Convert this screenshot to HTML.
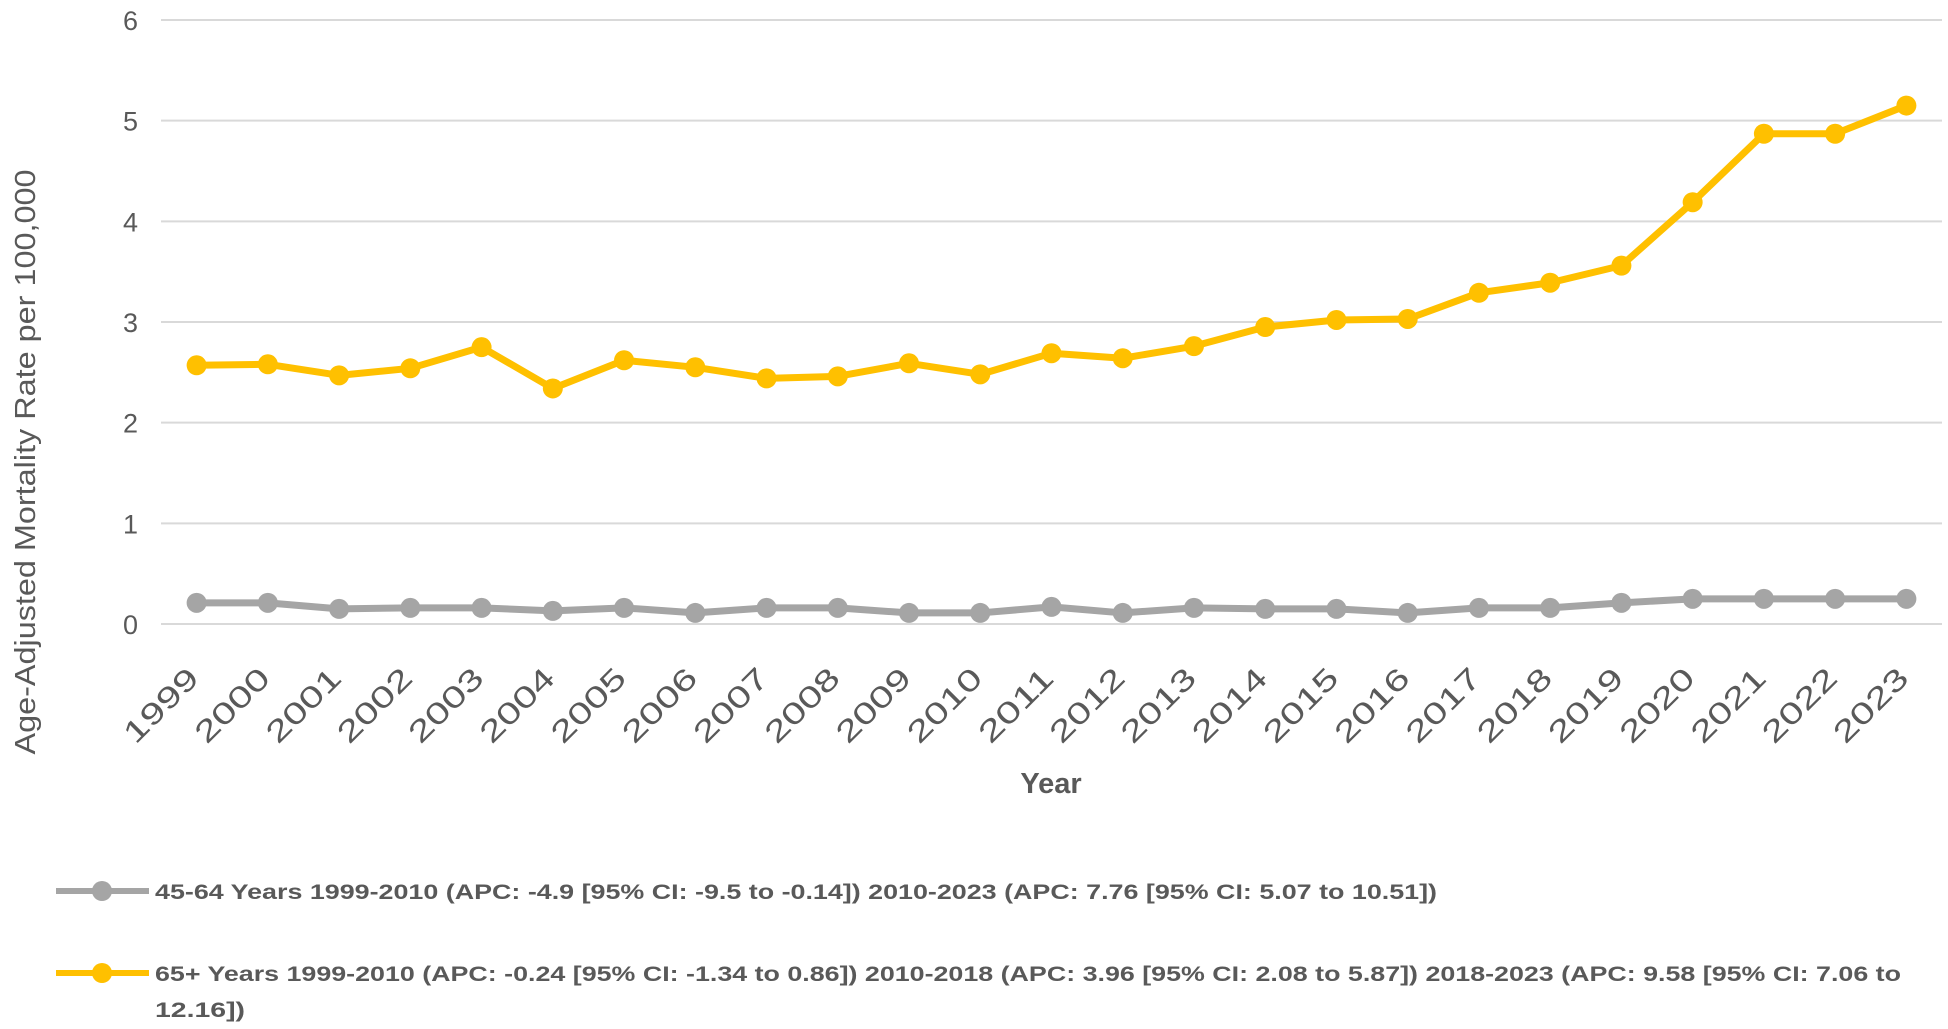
<!DOCTYPE html>
<html><head><meta charset="utf-8"><style>
html,body{margin:0;padding:0;background:#fff;}
svg{display:block;font-family:"Liberation Sans",sans-serif;}
</style></head><body>
<svg id="chart" width="1948" height="1029" viewBox="0 0 1948 1029" xmlns="http://www.w3.org/2000/svg">
<g id="grid"></g>
<g id="yticks"></g>
<g id="xticks"></g>
<g id="series"></g>
<text transform="translate(35,462) rotate(-90)" text-anchor="middle" font-size="29" fill="#595959" textLength="585" lengthAdjust="spacingAndGlyphs">Age-Adjusted Mortality Rate per 100,000</text>
<text x="1051" y="793" text-anchor="middle" font-size="29" font-weight="bold" fill="#595959">Year</text>
<g>
 <g>
  <line x1="56" y1="891" x2="149" y2="891" stroke="#A5A5A5" stroke-width="6"/>
  <circle cx="102" cy="891" r="10" fill="#A5A5A5"/>
  <text x="155" y="899" font-size="21" font-weight="bold" fill="#595959" textLength="1282" lengthAdjust="spacingAndGlyphs">45-64 Years 1999-2010 (APC: -4.9 [95% CI: -9.5 to -0.14]) 2010-2023 (APC: 7.76 [95% CI: 5.07 to 10.51])</text>
 </g>
 <g>
  <line x1="56" y1="973" x2="149" y2="973" stroke="#FFC000" stroke-width="6"/>
  <circle cx="102" cy="973" r="10" fill="#FFC000"/>
  <text x="155" y="981" font-size="21" font-weight="bold" fill="#595959" textLength="1746" lengthAdjust="spacingAndGlyphs">65+ Years 1999-2010 (APC: -0.24 [95% CI: -1.34 to 0.86]) 2010-2018 (APC: 3.96 [95% CI: 2.08 to 5.87]) 2018-2023 (APC: 9.58 [95% CI: 7.06 to</text>
  <text x="155" y="1017" font-size="21" font-weight="bold" fill="#595959" textLength="90" lengthAdjust="spacingAndGlyphs">12.16])</text>
 </g>
</g>
</svg>
<script>
const years = [1999,2000,2001,2002,2003,2004,2005,2006,2007,2008,2009,2010,2011,2012,2013,2014,2015,2016,2017,2018,2019,2020,2021,2022,2023];
const rate4564 = [0.21,0.21,0.15,0.16,0.16,0.13,0.16,0.11,0.16,0.16,0.11,0.11,0.17,0.11,0.16,0.15,0.15,0.11,0.16,0.16,0.21,0.25,0.25,0.25,0.25];
const rate65 = [2.57,2.58,2.47,2.54,2.75,2.34,2.62,2.55,2.44,2.46,2.59,2.48,2.69,2.64,2.76,2.95,3.02,3.03,3.29,3.39,3.56,4.19,4.87,4.87,5.15];
const yTicks = [0,1,2,3,4,5,6];

const NS="http://www.w3.org/2000/svg";
const X0=161, X1=1942, Y0=624, Y6=20;
const band=(X1-X0)/years.length;
function xs(i){return X0+band*(i+0.5);}
function ys(v){return Y0-(v/6)*(Y0-Y6);}
function mk(tag,attrs,parent){const e=document.createElementNS(NS,tag);for(const k in attrs)e.setAttribute(k,attrs[k]);parent.appendChild(e);return e;}

const grid=document.getElementById('grid'), yt=document.getElementById('yticks'), xt=document.getElementById('xticks'), ser=document.getElementById('series');
yTicks.forEach(t=>{
  const l=mk('line',{x1:X0,x2:X1,y1:ys(t),y2:ys(t),stroke:'#D9D9D9','stroke-width':2},grid);
  
  
  const tx=mk('text',{x:138,y:ys(t)+10,'text-anchor':'end','font-size':27,fill:'#595959'},yt);
  tx.textContent=t;
  
  
});
years.forEach((y,i)=>{
  const x=xs(i)+4, yy=680;
  const tx=mk('text',{x:x,y:yy,'text-anchor':'end','font-size':30,fill:'#595959',textLength:92,lengthAdjust:'spacingAndGlyphs',transform:`rotate(-45 ${x} ${yy})`},xt);
  tx.textContent=y;
  
  
});
function drawSeries(vals,color,name){
  const g=mk('g',{},ser);
  
  
  const pl=mk('polyline',{points:vals.map((v,i)=>xs(i)+','+ys(v)).join(' '),fill:'none',stroke:color,'stroke-width':7,'stroke-linejoin':'round'},g);
  
  
  vals.forEach((v,i)=>{
    const c=mk('circle',{cx:xs(i),cy:ys(v),r:10,fill:color},g);
    
    
  });
}
drawSeries(rate4564,'#A5A5A5','series-45-64');
drawSeries(rate65,'#FFC000','series-65-plus');
</script>
</body></html>
